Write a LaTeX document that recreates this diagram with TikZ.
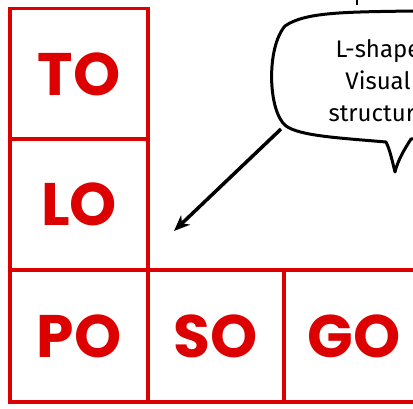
\documentclass[tikz,border=0pt]{standalone}
\usepackage{fontspec}
\setmainfont{Fira Sans}
\newfontfamily\cellfont{Poppins}[BoldFont={* Bold}]
\usetikzlibrary{arrows.meta}
\definecolor{cellred}{HTML}{DD0000}
\tikzset{
  cell/.style={draw=cellred, line width=3.3pt, minimum width=#1, minimum height=131pt,
    inner sep=0pt, text=cellred, font=\cellfont\fontsize{60}{60}\selectfont\bfseries},
  cell/.default=138pt,
  bubble/.style={draw=black, line width=3pt, fill=white, line join=round},
  bubbletext/.style={align=center, font=\fontsize{24}{32}\selectfont, text=black},
  pointer/.style={draw=black, line width=3.5pt, -{Stealth[length=16pt, width=13pt, inset=5pt]}},
}
\begin{document}
\begin{tikzpicture}[x=1pt, y=-1pt]
\useasboundingbox (0,0) rectangle (413,409);
\clip (0,0) rectangle (413,409);
% grid cells
\node[cell=138pt] (to) at (79,74) {TO};
\node[cell=138pt] (lo) at (79,204.5) {LO};
\node[cell=138pt, minimum height=132pt] (po) at (79,336) {PO};
\node[cell=136pt, minimum height=132pt] (so) at (216,336) {SO};
\node[cell=140pt, minimum height=132pt] (go) at (354,336) {GO};
% small tick at top
\coordinate (t1) at (357,-5);
\coordinate (t2) at (357,5);
\draw[line width=2.6pt] (t1) -- (t2);
% speech bubble
\draw[bubble] (285,26) .. controls (305,12) and (345,12) .. (413,11) -- (480,11) -- (480,136)
  -- (411,139) .. controls (404,150) and (398,160) .. (395,172)
  .. controls (392,160) and (390,150) .. (386,142)
  .. controls (340,138) and (300,136) .. (286,126)
  .. controls (268,112) and (266,48) .. (285,26) -- cycle;
\node[bubbletext] (bt) at (378,81) {L-shape\\Visual\\structure};
% arrow
\coordinate (as) at (281,129);
\coordinate (ae) at (174,231);
\draw[pointer] (as) -- (ae);
\end{tikzpicture}
\end{document}
